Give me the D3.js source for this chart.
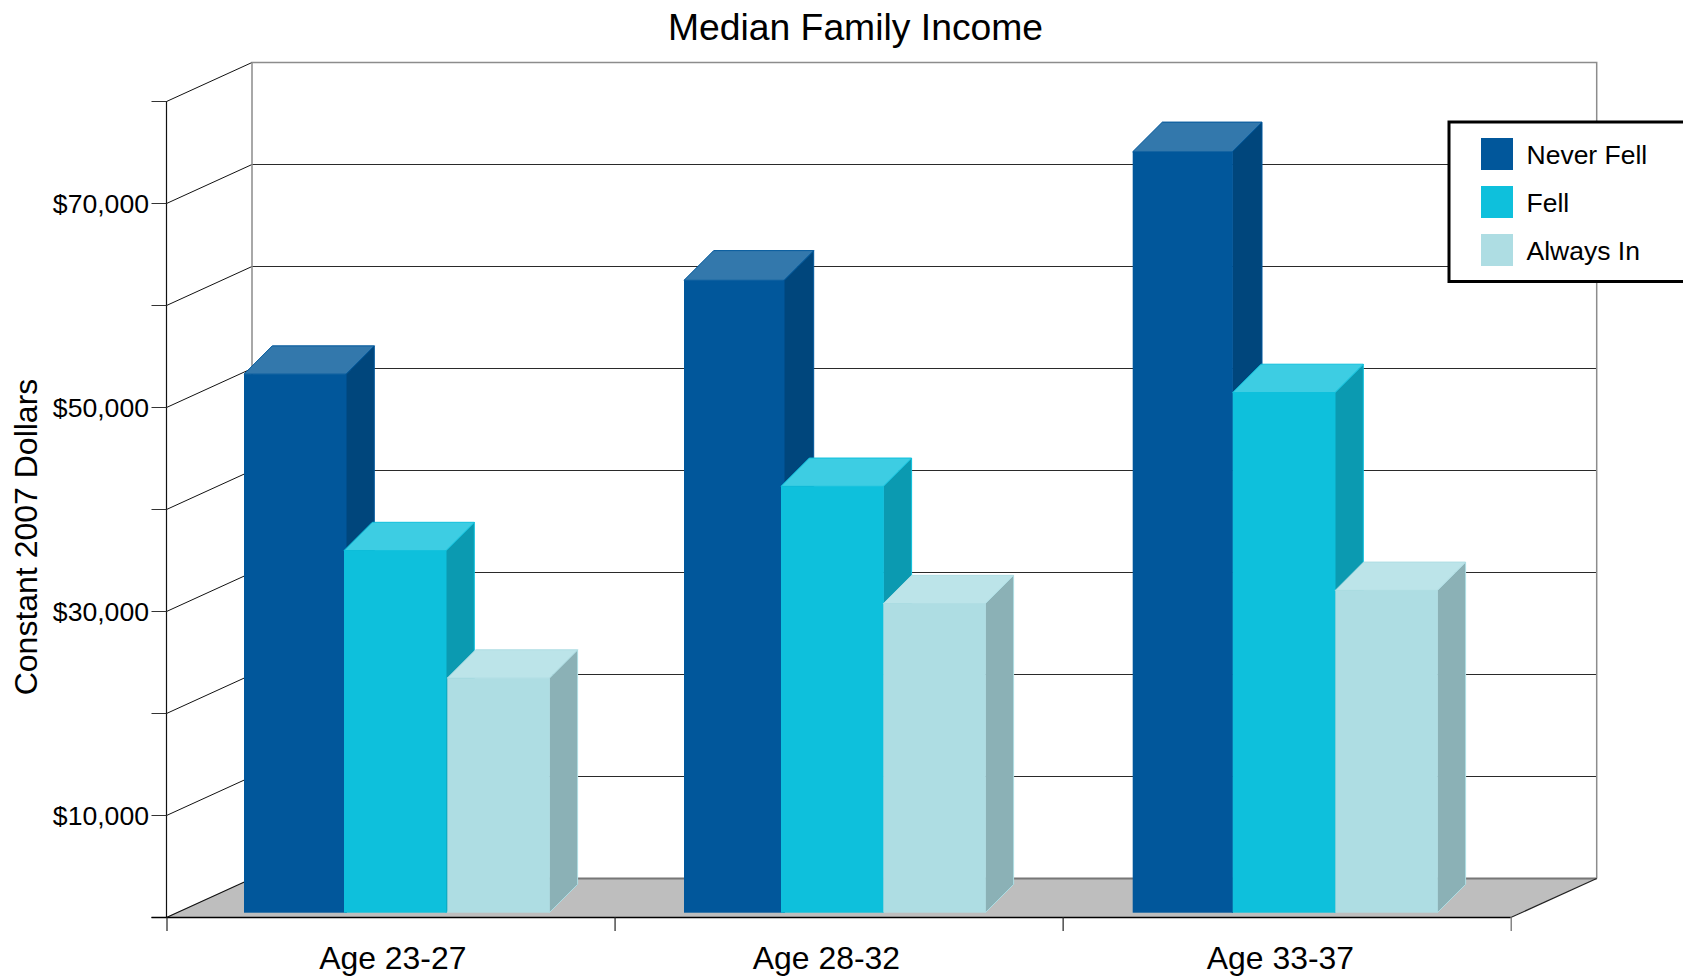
<!DOCTYPE html>
<html><head><meta charset="utf-8">
<script src="https://cdn.jsdelivr.net/npm/d3@7"></script>
<style>
html,body{margin:0;padding:0;background:#fff;overflow:hidden}
svg{display:block}
text{font-family:"Liberation Sans",Arial,sans-serif;fill:#000}
</style></head><body>
<svg id="chart" width="1683" height="976"></svg>
<script>
const categories = ["Age 23-27","Age 28-32","Age 33-37"];
const seriesNames = ["Never Fell","Fell","Always In"];
const neverFell = [52800,62000,74600];
const fell = [35500,41800,51000];
const alwaysIn = [23000,30300,31600];
const yTicks = [0,10000,20000,30000,40000,50000,60000,70000,80000];
const yLabelled = [10000,30000,50000,70000];
const seriesValues = [neverFell,fell,alwaysIn];
const colors = ["#01579b","#0ec0dc","#aedde3"];
const sideColors = ["#00467c","#0b9ab1","#8bb1b6"];
const topColors = ["#3378ac","#3dcde3","#bce4e9"];

const W=1683,H=976;
const svg=d3.select("#chart");
const y=d3.scaleLinear().domain([0,80000]).range([917,101]);
const xTick=d3.scaleLinear().domain([0,3]).range([166.5,1510.7]);
const wallDx=85.5, wallDy=-38.5, barBase=4.3;
const wallRight=1596.7;

// left edge, width and depth of each bar, by series then category
const byCat=r=>d3.scaleOrdinal().domain(categories).range(r);
const leftEdge=[[244,684,1132.7],[344,781,1232.7],[447.3,883.3,1335.3]].map(byCat);
const barWidth=[[102,100,99.6],[102,102.3,102.3],[102,102,102]].map(byCat);
const barDepth=[[28.3,29.7,29.7],[28.3,28.3,28.3],[28.3,28.3,28.3]].map(byCat);
const labelX=byCat([392.8,826.4,1280.4]);

const wx=xTick(0)+wallDx;
// floor
const fy=y(0), fbx=[xTick(0),xTick(3)];
svg.append("polygon").attr("points",[[fbx[0],fy],[fbx[1],fy],[wallRight,fy+wallDy],[wx,fy+wallDy]].join(" ")).attr("fill","#bebebe");

// grid
const grid=svg.append("g");
yTicks.slice(1,-1).forEach(v=>{
  const yy=y(v);
  grid.append("path").attr("d",`M${xTick(0)},${yy+.5}L${wx},${yy+wallDy}`).attr("fill","none").attr("stroke","#111").attr("stroke-width",1);
  grid.append("line").attr("x1",wx).attr("x2",wallRight).attr("y1",yy+wallDy).attr("y2",yy+wallDy).attr("stroke","#2a2a2a").attr("stroke-width",1);
});
// top and floor edges of the wall
const wallTop=y(80000)+wallDy, wallBot=y(0)+wallDy;
grid.append("path").attr("d",`M${xTick(0)},${y(80000)+.5}L${wx},${wallTop}`).attr("fill","none").attr("stroke","#111");
grid.append("path").attr("d",`M${wx},${wallBot}V${wallTop}H${wallRight}V${wallBot}`).attr("fill","none").attr("stroke","#8c8c8c").attr("stroke-width",1.5);
grid.append("line").attr("x1",wx).attr("x2",wallRight).attr("y1",wallBot).attr("y2",wallBot).attr("stroke","#777").attr("stroke-width",2);
grid.append("path").attr("d",`M${xTick(0)},${fy+.5}L${wx},${wallBot}`).attr("fill","none").attr("stroke","#111").attr("stroke-width",1.2);
grid.append("path").attr("d",`M${xTick(3)},${fy+.5}L${wallRight},${wallBot}`).attr("fill","none").attr("stroke","#222").attr("stroke-width",1.2);

// axes
const yAxis=d3.axisLeft(y).tickValues(yTicks).tickSize(15).tickPadding(2.5)
  .tickFormat(v=>yLabelled.includes(v)?"$"+d3.format(",")(v):"");
const ga=svg.append("g").attr("transform",`translate(${xTick(0)},0)`).call(yAxis);
ga.select(".domain").attr("d",`M0,${y(80000)}V${fy}`).attr("stroke","#111").attr("stroke-width",1.2);
ga.selectAll(".tick line").attr("stroke","#333").attr("stroke-width",1);
ga.selectAll(".tick text").attr("font-size",26.6).attr("font-family",null).attr("dy","0.36em").style("font-family",'"Liberation Sans"');
const xAxis=d3.axisBottom(xTick).tickValues([0,1,2,3]).tickSize(14).tickFormat("");
const gx=svg.append("g").attr("transform",`translate(0,${fy})`).call(xAxis);
gx.select(".domain").attr("d",`M${xTick(0)-15},0.5H${xTick(3)}`).attr("stroke","#000").attr("stroke-width",1.5);
gx.selectAll(".tick line").attr("stroke",(d,i)=>i==3?"#666":"#222").attr("stroke-width",1.2);

// bars
categories.forEach(c=>{
  const g=svg.append("g").attr("class","cluster");
  seriesNames.forEach((s,si)=>{
    const v=seriesValues[si][categories.indexOf(c)];
    const x0=leftEdge[si](c), x1=x0+barWidth[si](c);
    const yTop=y(v)-barBase, yBot=y(0)-barBase;
    const d=barDepth[si](c);
    g.append("polygon").attr("points",[[x1,yTop],[x1+d,yTop-d],[x1+d,yBot-d],[x1,yBot]].join(" "))
      .attr("fill",sideColors[si]).attr("stroke",colors[si]).attr("stroke-width",1).attr("stroke-linejoin","round");
    g.append("polygon").attr("points",[[x0,yTop],[x0+d,yTop-d],[x1+d,yTop-d],[x1,yTop]].join(" "))
      .attr("fill",topColors[si]).attr("stroke",colors[si]).attr("stroke-width",1).attr("stroke-linejoin","round");
    g.append("rect").attr("x",x0).attr("y",yTop).attr("width",x1-x0).attr("height",yBot-yTop).attr("fill",colors[si]);
  });
});

// text
svg.append("text").attr("x",855.5).attr("y",40).attr("text-anchor","middle").attr("font-size",37.3).text("Median Family Income");
svg.append("text").attr("transform","translate(36.5,537) rotate(-90)").attr("text-anchor","middle").attr("font-size",32).text("Constant 2007 Dollars");
categories.forEach(c=>svg.append("text").attr("x",labelX(c)).attr("y",969).attr("text-anchor","middle").attr("font-size",31.9).text(c));

// legend
const lg=svg.append("g");
lg.append("rect").attr("x",1449).attr("y",122).attr("width",260).attr("height",159.5).attr("fill","#fff").attr("stroke","#000").attr("stroke-width",3);
const ly=d3.scalePoint().domain(seriesNames).range([138,234]);
seriesNames.forEach((s,i)=>{
  lg.append("rect").attr("x",1481).attr("y",ly(s)).attr("width",32).attr("height",32).attr("fill",colors[i]);
  lg.append("text").attr("x",1526.5).attr("y",ly(s)+25.5).attr("font-size",26.5).text(s);
});
</script>
</body></html>
